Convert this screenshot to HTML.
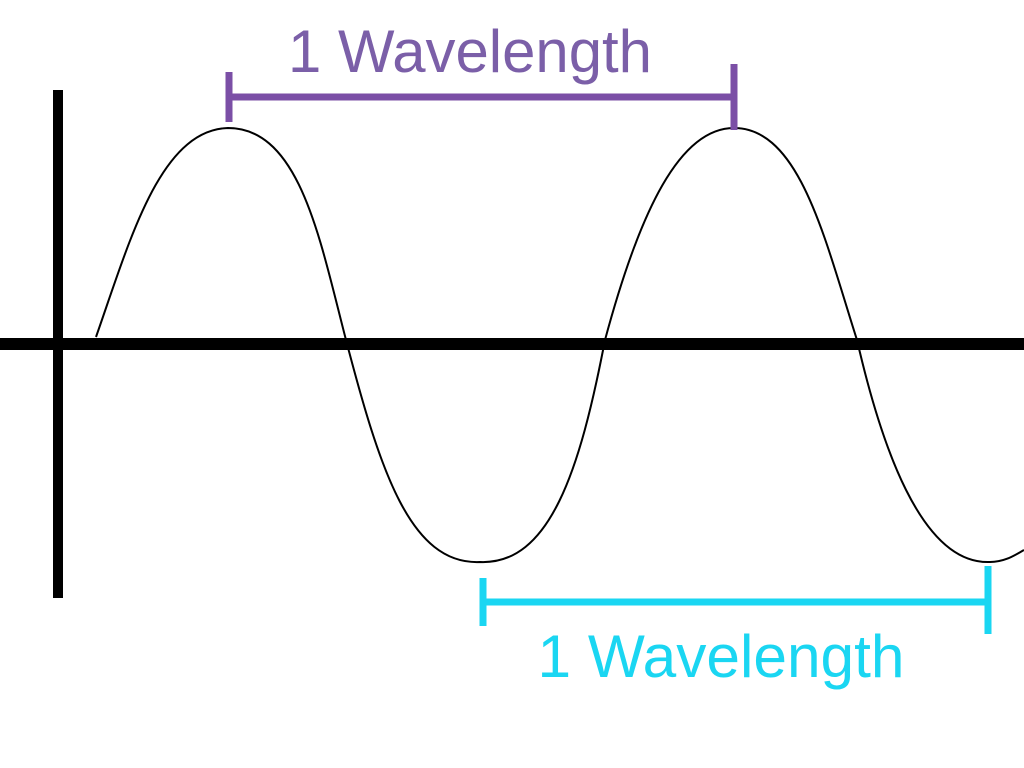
<!DOCTYPE html>
<html><head><style>body{margin:0;background:#fff}svg{display:block}</style></head>
<body>
<svg width="1024" height="768" viewBox="0 0 1024 768" xmlns="http://www.w3.org/2000/svg">
<rect width="1024" height="768" fill="#fff"/>
<line x1="58" y1="90" x2="58" y2="598" stroke="#000" stroke-width="10"/>
<line x1="0" y1="344" x2="1024" y2="344" stroke="#000" stroke-width="12"/>
<path d="M96,337 C130,240 160,130 228,128 C300,128 320,240 346,340 C380,470 410,565 480,562 C550,565 580,470 605,340 C640,210 680,128 734,128 C800,128 825,240 857,340 C880,440 920,565 990,562 C1005,562 1015,555 1024,550" fill="none" stroke="#000" stroke-width="2"/>
<g stroke="#7b4fa6" stroke-width="7">
<line x1="228" y1="97" x2="734" y2="97"/>
<line x1="229" y1="72" x2="229" y2="122"/>
<line x1="734" y1="64" x2="734" y2="130"/>
</g>
<text x="470" y="72" font-family="Liberation Sans, sans-serif" font-size="60" fill="#7b5fa8" text-anchor="middle" textLength="364" lengthAdjust="spacingAndGlyphs">1 Wavelength</text>
<g stroke="#1ad6f2" stroke-width="7">
<line x1="483" y1="602" x2="988" y2="602"/>
<line x1="483" y1="578" x2="483" y2="626"/>
<line x1="988" y1="566" x2="988" y2="634"/>
</g>
<text x="721" y="677" font-family="Liberation Sans, sans-serif" font-size="60" fill="#1ad6f2" text-anchor="middle" textLength="367" lengthAdjust="spacingAndGlyphs">1 Wavelength</text>
</svg>
</body></html>
